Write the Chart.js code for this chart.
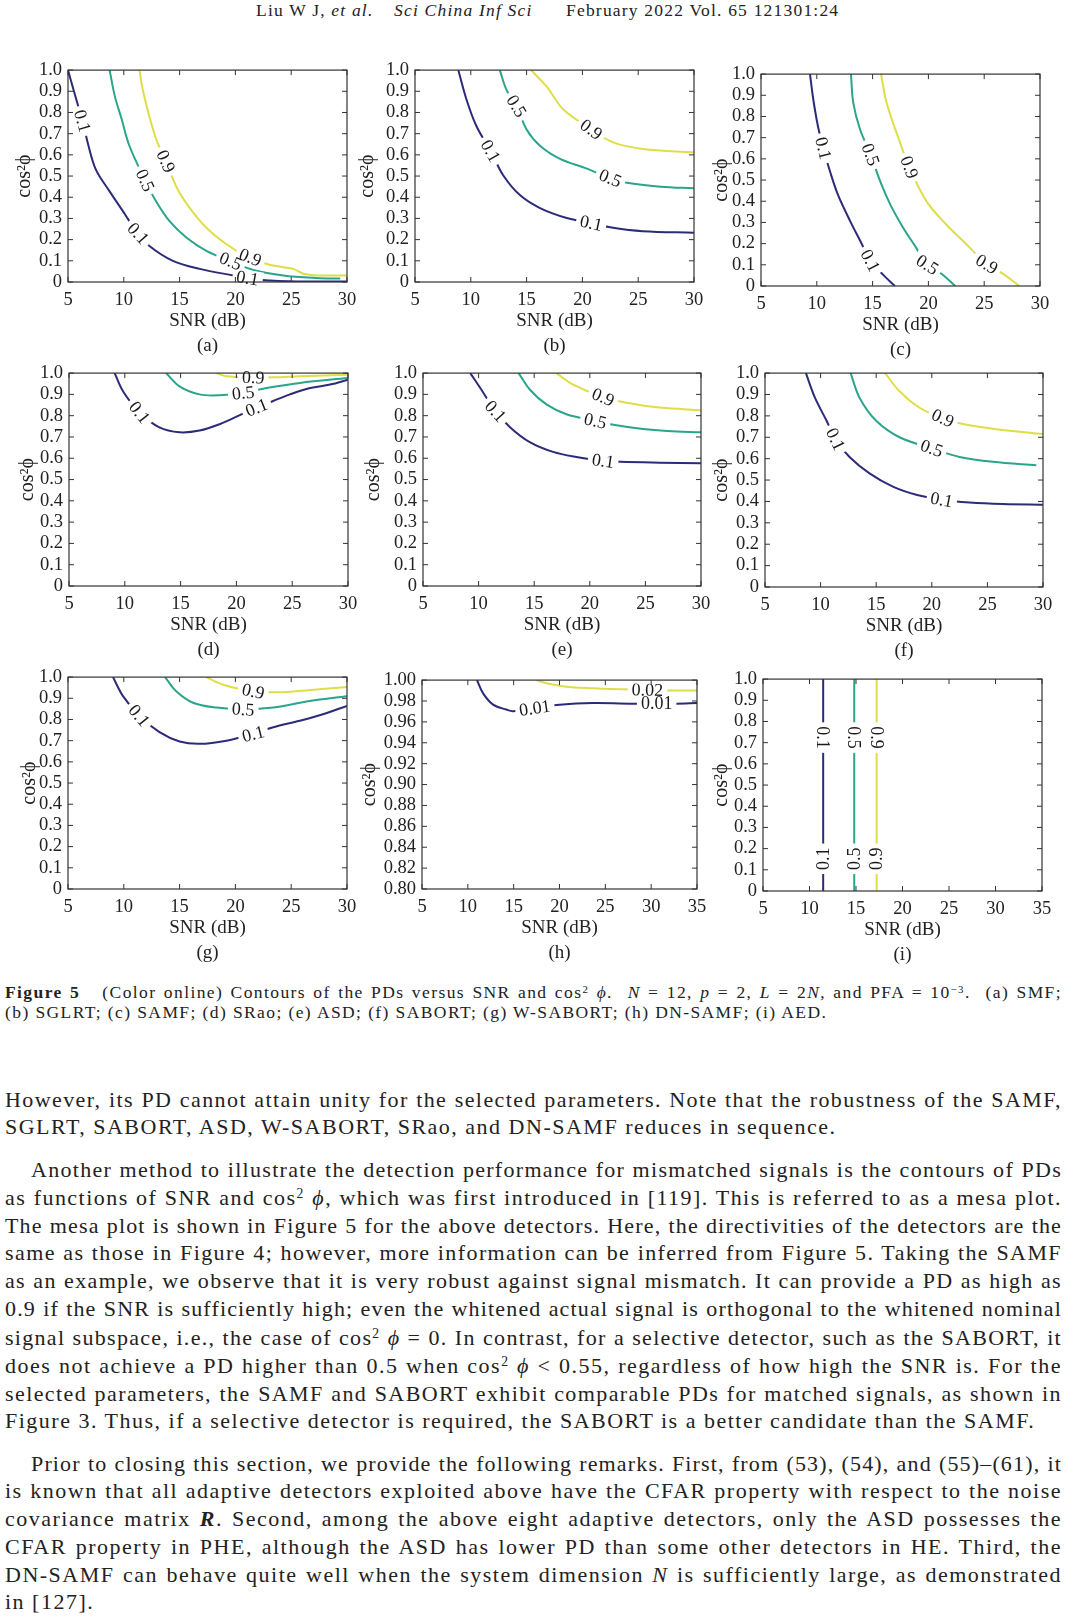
<!DOCTYPE html>
<html>
<head>
<meta charset="utf-8">
<script src="https://cdn.jsdelivr.net/npm/chart.js@4.4.1/dist/chart.umd.min.js"></script>
<style>
body { margin:0; background:#fff; width:1080px; height:1619px; position:relative; overflow:hidden;
       font-family:"Liberation Serif","DejaVu Serif",serif; color:#222; }
canvas { position:absolute; }
.hd { position:absolute; top:0; font-size:17.5px; line-height:20px; white-space:nowrap; letter-spacing:1.2px; }
.cap { position:absolute; left:5px; width:1057px; font-size:17.5px; line-height:21px; height:21px; overflow:hidden;
       text-align:justify; text-align-last:justify; }
.ln { position:absolute; left:5px; width:1057px; font-size:22px; line-height:28px; height:28px; overflow:hidden;
      text-align:justify; text-align-last:justify; }
.end { text-align-last:left; }
.ind { text-indent:26px; }
sup { font-size:0.62em; vertical-align:0; position:relative; top:-0.5em; }
</style>
</head>
<body>

<div class="hd" style="left:256px">Liu W J, <i>et al.</i></div>
<div class="hd" style="left:394px"><i>Sci China Inf Sci</i></div>
<div class="hd" style="left:566px">February 2022 Vol. 65 121301:24</div>

<div class="cap" style="top:982px"><b>Figure 5</b>&nbsp;&nbsp; (Color online) Contours of the PDs versus SNR and cos<sup>2</sup> <i>ϕ</i>. &nbsp;<i>N</i> = 12, <i>p</i> = 2, <i>L</i> = 2<i>N</i>, and PFA = 10<sup>−3</sup>. &nbsp;(a) SMF;</div>
<div class="cap end" style="top:1002px">(b) SGLRT; (c) SAMF; (d) SRao; (e) ASD; (f) SABORT; (g) W-SABORT; (h) DN-SAMF; (i) AED.</div>

<div class="ln" style="top:1086px">However, its PD cannot attain unity for the selected parameters. Note that the robustness of the SAMF,</div>
<div class="ln end" style="top:1113px">SGLRT, SABORT, ASD, W-SABORT, SRao, and DN-SAMF reduces in sequence.</div>

<div class="ln ind" style="top:1156px">Another method to illustrate the detection performance for mismatched signals is the contours of PDs</div>
<div class="ln" style="top:1184px">as functions of SNR and cos<sup>2</sup> <i>ϕ</i>, which was first introduced in [119]. This is referred to as a mesa plot.</div>
<div class="ln" style="top:1212px">The mesa plot is shown in Figure 5 for the above detectors. Here, the directivities of the detectors are the</div>
<div class="ln" style="top:1239px">same as those in Figure 4; however, more information can be inferred from Figure 5. Taking the SAMF</div>
<div class="ln" style="top:1267px">as an example, we observe that it is very robust against signal mismatch. It can provide a PD as high as</div>
<div class="ln" style="top:1295px">0.9 if the SNR is sufficiently high; even the whitened actual signal is orthogonal to the whitened nominal</div>
<div class="ln" style="top:1324px">signal subspace, i.e., the case of cos<sup>2</sup> <i>ϕ</i> = 0. In contrast, for a selective detector, such as the SABORT, it</div>
<div class="ln" style="top:1352px">does not achieve a PD higher than 0.5 when cos<sup>2</sup> <i>ϕ</i> &lt; 0.55, regardless of how high the SNR is. For the</div>
<div class="ln" style="top:1380px">selected parameters, the SAMF and SABORT exhibit comparable PDs for matched signals, as shown in</div>
<div class="ln end" style="top:1407px">Figure 3. Thus, if a selective detector is required, the SABORT is a better candidate than the SAMF.</div>

<div class="ln ind" style="top:1450px">Prior to closing this section, we provide the following remarks. First, from (53), (54), and (55)–(61), it</div>
<div class="ln" style="top:1477px">is known that all adaptive detectors exploited above have the CFAR property with respect to the noise</div>
<div class="ln" style="top:1505px">covariance matrix <b><i>R</i></b>. Second, among the above eight adaptive detectors, only the ASD possesses the</div>
<div class="ln" style="top:1533px">CFAR property in PHE, although the ASD has lower PD than some other detectors in HE. Third, the</div>
<div class="ln" style="top:1561px">DN-SAMF can behave quite well when the system dimension <i>N</i> is sufficiently large, as demonstrated</div>
<div class="ln end" style="top:1588px">in [127].</div>

<script>
// 等高線の色 (0.1 / 0.5 / 0.9)
const levelColors = ['#2c2b78', '#2aa58c', '#dede48'];

// (a) SMF
const smfSnr01 = [5.0, 5.75, 6.35, 6.8, 7.5, 8.7, 10.1, 11.1, 12.3, 14.4, 16.8, 19.8, 21.8, 24.8, 30];
const smfCos01 = [1.0, 0.86, 0.75, 0.65, 0.53, 0.43, 0.32, 0.24, 0.17, 0.10, 0.062, 0.031, 0.012, 0.004, 0.002];
const smfSnr05 = [8.73, 9.2, 9.8, 10.5, 12.0, 12.9, 14.1, 15.6, 17.4, 19.8, 21.6, 24.3, 27.25, 29.4];
const smfCos05 = [1.0, 0.876, 0.77, 0.643, 0.47, 0.38, 0.287, 0.21, 0.147, 0.093, 0.057, 0.031, 0.019, 0.016];
const smfSnr09 = [11.4, 11.7, 12.2, 12.9, 13.8, 14.8, 15.9, 17.4, 19.2, 20.7, 22.8, 24.3, 25.2, 26.1, 27.5, 30];
const smfCos09 = [1.0, 0.907, 0.8, 0.674, 0.566, 0.44, 0.35, 0.256, 0.178, 0.13, 0.085, 0.07, 0.062, 0.039, 0.031, 0.031];

// (b) SGLRT
const sglrtSnr01 = [8.88, 9.62, 10.5, 11.86, 12.9, 14.4, 16.2, 18.6, 20.7, 22.75, 25.4, 30];
const sglrtCos01 = [1.0, 0.86, 0.736, 0.61, 0.504, 0.41, 0.349, 0.302, 0.279, 0.256, 0.24, 0.233];
const sglrtSnr05 = [12.6, 13.2, 14.1, 15.0, 16.2, 18.0, 20.4, 22.5, 24.0, 27.0, 30];
const sglrtCos05 = [1.0, 0.907, 0.83, 0.72, 0.643, 0.581, 0.535, 0.49, 0.468, 0.45, 0.442];
const sglrtSnr09 = [15.4, 16.8, 18.3, 20.8, 22.75, 25.4, 30];
const sglrtCos09 = [1.0, 0.922, 0.814, 0.72, 0.659, 0.628, 0.612];

// (c) SAMF
const samfSnr01 = [9.39, 9.69, 10.1, 10.6, 11.2, 11.9, 13.0, 13.9, 14.8, 16.0, 17.0];
const samfCos01 = [1.0, 0.879, 0.755, 0.647, 0.538, 0.43, 0.305, 0.212, 0.12, 0.05, 0];
const samfSnr05 = [13.06, 13.27, 13.87, 14.8, 15.7, 16.6, 17.75, 18.9, 19.8, 21.2, 22.4];
const samfCos05 = [1.0, 0.864, 0.74, 0.623, 0.491, 0.383, 0.274, 0.181, 0.104, 0.057, 0];
const samfSnr09 = [15.75, 16.26, 17.45, 18.35, 19.85, 21.6, 23.4, 25.2, 26.7, 28.15];
const samfCos09 = [1.0, 0.864, 0.678, 0.553, 0.398, 0.29, 0.197, 0.104, 0.057, 0];

// (d) SRao
const sraoSnr01 = [9.09, 9.84, 11.33, 13.1, 14.9, 16.7, 18.5, 20.2, 21.8, 23.3, 24.8, 26.6, 28.4, 30];
const sraoCos01 = [1.0, 0.915, 0.815, 0.745, 0.722, 0.73, 0.76, 0.80, 0.838, 0.869, 0.90, 0.93, 0.946, 0.969];
const sraoSnr05 = [13.7, 14.9, 16.7, 18.5, 20.6, 22.7, 25.7, 30];
const sraoCos05 = [1.0, 0.938, 0.9, 0.896, 0.907, 0.93, 0.954, 0.977];
const sraoSnr09 = [18.2, 19.1, 21.5, 23.3, 25.7, 30];
const sraoCos09 = [1.0, 0.985, 0.98, 0.98, 0.985, 0.992];

// (e) ASD
const asdSnr01 = [9.25, 10.15, 11.5, 12.85, 14.6, 16.7, 18.8, 21.2, 23.3, 26.3, 30];
const asdCos01 = [1.0, 0.93, 0.823, 0.745, 0.676, 0.63, 0.606, 0.588, 0.583, 0.579, 0.576];
const asdSnr05 = [13.6, 14.6, 16.1, 17.9, 20.5, 22.4, 24.8, 27.0, 30];
const asdCos05 = [1.0, 0.923, 0.853, 0.807, 0.776, 0.755, 0.737, 0.728, 0.722];
const asdSnr09 = [17.0, 18.5, 21.2, 23.3, 26.3, 30];
const asdCos09 = [1.0, 0.946, 0.887, 0.861, 0.838, 0.826];

// (f) SABORT
const sabortSnr01 = [8.68, 9.49, 10.54, 11.4, 12.6, 14.4, 16.5, 18.6, 20.9, 23.4, 26.4, 30];
const sabortCos01 = [1.0, 0.885, 0.777, 0.685, 0.608, 0.531, 0.469, 0.431, 0.408, 0.395, 0.388, 0.385];
const sabortSnr05 = [12.7, 13.5, 15.0, 17.1, 20.1, 22.5, 25.5, 29.4];
const sabortCos05 = [1.0, 0.885, 0.777, 0.7, 0.646, 0.608, 0.585, 0.569];
const sabortSnr09 = [15.8, 17.1, 18.9, 21.0, 22.8, 25.8, 30];
const sabortCos09 = [1.0, 0.915, 0.838, 0.789, 0.762, 0.738, 0.715];

// (g) W-SABORT
const wsabortSnr01 = [9.03, 9.93, 11.4, 13.2, 15.0, 16.8, 19.2, 21.6, 23.4, 25.75, 27.85, 30];
const wsabortCos01 = [1.0, 0.91, 0.817, 0.74, 0.696, 0.685, 0.7, 0.732, 0.763, 0.794, 0.825, 0.864];
const wsabortSnr05 = [13.7, 14.7, 16.2, 18.3, 20.7, 23.4, 26.65, 30];
const wsabortCos05 = [1.0, 0.933, 0.879, 0.856, 0.848, 0.856, 0.887, 0.91];
const wsabortSnr09 = [17.4, 18.9, 21.6, 24.3, 27.25, 30];
const wsabortCos09 = [1.0, 0.964, 0.933, 0.929, 0.941, 0.953];

// (h) DN-SAMF (レベル 0.01 / 0.02)
const dnSnr001 = [11.0, 11.65, 12.75, 14.2, 14.9, 17.5, 20.0, 23.65, 28.4, 30.6, 32.7, 35];
const dnCos001 = [1.0, 0.9875, 0.9765, 0.9718, 0.9702, 0.9735, 0.9765, 0.978, 0.9774, 0.9774, 0.9774, 0.978];
const dnSnr002 = [17.5, 18.6, 20.7, 23.65, 26.9, 29.65, 32.7, 35];
const dnCos002 = [1.0, 0.9969, 0.9937, 0.9922, 0.9912, 0.9906, 0.99, 0.99];

// (i) AED (縦線)
const aedSnr01 = [11.47, 11.47];
const aedSnr05 = [14.81, 14.81];
const aedSnr09 = [17.22, 17.22];
const aedCos = [0, 1];

// 目盛り
const snrTicks30 = [5, 10, 15, 20, 25, 30];
const snrTicks35 = [5, 10, 15, 20, 25, 30, 35];
const cosTicks = [0, 0.1, 0.2, 0.3, 0.4, 0.5, 0.6, 0.7, 0.8, 0.9, 1.0];
const cosTicksH = [0.80, 0.82, 0.84, 0.86, 0.88, 0.90, 0.92, 0.94, 0.96, 0.98, 1.00];

Chart.defaults.font.family = '"Liberation Serif", "Times New Roman", serif';
Chart.defaults.color = '#222';

function contour(level, color, snr, cos, labels) {
    return { level, color, snr, cos, labels };
}

// パネルごとの配置と等高線
const panels = [
    { tag: '(a)', l: 68, r: 347, t: 67, b: 282, titleX: 25, xTicks: snrTicks30, yTicks: cosTicks, dec: 1, lines: [
        contour('0.1', levelColors[0], smfSnr01, smfCos01, [[6.3, 0.76], [11.3, 0.23], [21.1, 0.02]]),
        contour('0.5', levelColors[1], smfSnr05, smfCos05, [[11.9, 0.48], [19.5, 0.09]]),
        contour('0.9', levelColors[2], smfSnr09, smfCos09, [[13.8, 0.57], [21.4, 0.125]]) ] },
    { tag: '(b)', l: 415, r: 694, t: 67, b: 282, titleX: 368, xTicks: snrTicks30, yTicks: cosTicks, dec: 1, lines: [
        contour('0.1', levelColors[0], sglrtSnr01, sglrtCos01, [[11.8, 0.62], [20.8, 0.28]]),
        contour('0.5', levelColors[1], sglrtSnr05, sglrtCos05, [[14.1, 0.83], [22.5, 0.49]]),
        contour('0.9', levelColors[2], sglrtSnr09, sglrtCos09, [[20.8, 0.72]]) ] },
    { tag: '(c)', l: 761, r: 1040, t: 71, b: 286, titleX: 722, xTicks: snrTicks30, yTicks: cosTicks, dec: 1, lines: [
        contour('0.1', levelColors[0], samfSnr01, samfCos01, [[10.6, 0.65], [14.8, 0.12]]),
        contour('0.5', levelColors[1], samfSnr05, samfCos05, [[14.8, 0.62], [19.9, 0.1]]),
        contour('0.9', levelColors[2], samfSnr09, samfCos09, [[18.3, 0.56], [25.2, 0.1]]) ] },
    { tag: '(d)', l: 69, r: 348, t: 370, b: 586, titleX: 28, xTicks: snrTicks30, yTicks: cosTicks, dec: 1, lines: [
        contour('0.1', levelColors[0], sraoSnr01, sraoCos01, [[11.3, 0.815], [21.8, 0.84]]),
        contour('0.5', levelColors[1], sraoSnr05, sraoCos05, [[20.6, 0.907]]),
        contour('0.9', levelColors[2], sraoSnr09, sraoCos09, [[21.5, 0.98]]) ] },
    { tag: '(e)', l: 423, r: 701, t: 370, b: 586, titleX: 374, xTicks: snrTicks30, yTicks: cosTicks, dec: 1, lines: [
        contour('0.1', levelColors[0], asdSnr01, asdCos01, [[11.5, 0.82], [21.2, 0.59]]),
        contour('0.5', levelColors[1], asdSnr05, asdCos05, [[20.5, 0.776]]),
        contour('0.9', levelColors[2], asdSnr09, asdCos09, [[21.2, 0.887]]) ] },
    { tag: '(f)', l: 765, r: 1043, t: 370, b: 587, titleX: 722, xTicks: snrTicks30, yTicks: cosTicks, dec: 1, lines: [
        contour('0.1', levelColors[0], sabortSnr01, sabortCos01, [[11.3, 0.69], [20.9, 0.41]]),
        contour('0.5', levelColors[1], sabortSnr05, sabortCos05, [[20.0, 0.65]]),
        contour('0.9', levelColors[2], sabortSnr09, sabortCos09, [[21.0, 0.79]]) ] },
    { tag: '(g)', l: 68, r: 347, t: 674, b: 889, titleX: 30, xTicks: snrTicks30, yTicks: cosTicks, dec: 1, lines: [
        contour('0.1', levelColors[0], wsabortSnr01, wsabortCos01, [[11.4, 0.82], [21.6, 0.73]]),
        contour('0.5', levelColors[1], wsabortSnr05, wsabortCos05, [[20.7, 0.848]]),
        contour('0.9', levelColors[2], wsabortSnr09, wsabortCos09, [[21.6, 0.935]]) ] },
    { tag: '(h)', l: 422, r: 697, t: 677, b: 889, titleX: 370, xTicks: snrTicks35, yTicks: cosTicksH, dec: 2, lines: [
        contour('0.01', levelColors[0], dnSnr001, dnCos001, [[17.3, 0.974], [30.6, 0.9775]]),
        contour('0.02', levelColors[2], dnSnr002, dnCos002, [[29.6, 0.9906]]) ] },
    { tag: '(i)', l: 763, r: 1042, t: 676, b: 891, titleX: 722, xTicks: snrTicks35, yTicks: cosTicks, dec: 1, lines: [
        contour('0.1', levelColors[0], aedSnr01, aedCos, [[11.47, 0.724], [11.47, 0.152]]),
        contour('0.5', levelColors[1], aedSnr05, aedCos, [[14.81, 0.724], [14.81, 0.152]]),
        contour('0.9', levelColors[2], aedSnr09, aedCos, [[17.22, 0.724], [17.22, 0.152]]) ] },
];

// 枠・内向き目盛り・等高線ラベル
function contourPlugin(p) {
    return {
        id: 'contourLabels',
        afterDraw(chart) {
            const { ctx, chartArea: a, scales: { x, y } } = chart;
            const marks = [];
            p.lines.forEach(l => {
                const pts = l.snr.map((v, i) => [x.getPixelForValue(v), y.getPixelForValue(l.cos[i])]);
                l.labels.forEach(([lx, ly]) => {
                    const px = x.getPixelForValue(lx), py = y.getPixelForValue(ly);
                    let best = null;
                    for (let i = 0; i < pts.length - 1; i++) {
                        const [x0, y0] = pts[i], [x1, y1] = pts[i + 1];
                        const dx = x1 - x0, dy = y1 - y0, len2 = dx * dx + dy * dy || 1;
                        let t = ((px - x0) * dx + (py - y0) * dy) / len2;
                        t = Math.max(0, Math.min(1, t));
                        const qx = x0 + t * dx, qy = y0 + t * dy;
                        const d = (qx - px) ** 2 + (qy - py) ** 2;
                        if (!best || d < best.d) best = { d, qx, qy, dx, dy };
                    }
                    let ang = Math.atan2(best.dy, best.dx);
                    if (Math.abs(best.dx) < 0.5) {
                        ang = py < (a.top + a.bottom) / 2 ? Math.PI / 2 : -Math.PI / 2;
                    } else {
                        if (ang > Math.PI / 2) ang -= Math.PI;
                        if (ang < -Math.PI / 2) ang += Math.PI;
                    }
                    marks.push({ x: best.qx, y: best.qy, ang, text: l.level });
                });
            });

            ctx.save();
            ctx.font = '18px "Liberation Serif", serif';
            // 線の切れ目
            ctx.save();
            ctx.beginPath();
            ctx.rect(a.left, a.top, a.width, a.height);
            ctx.clip();
            marks.forEach(m => {
                const w = ctx.measureText(m.text).width;
                ctx.save();
                ctx.translate(m.x, m.y);
                ctx.rotate(m.ang);
                ctx.fillStyle = '#fff';
                ctx.fillRect(-w / 2 - 4, -8, w + 8, 16);
                ctx.restore();
            });
            ctx.restore();

            // 枠
            ctx.strokeStyle = '#333';
            ctx.lineWidth = 1.2;
            ctx.strokeRect(a.left, a.top, a.width, a.height);
            ctx.lineWidth = 1;
            ctx.beginPath();
            x.ticks.forEach(t => {
                const px = x.getPixelForValue(t.value);
                ctx.moveTo(px, a.bottom); ctx.lineTo(px, a.bottom - 5);
                ctx.moveTo(px, a.top); ctx.lineTo(px, a.top + 5);
            });
            y.ticks.forEach(t => {
                const py = y.getPixelForValue(t.value);
                ctx.moveTo(a.left, py); ctx.lineTo(a.left + 5, py);
                ctx.moveTo(a.right, py); ctx.lineTo(a.right - 5, py);
            });
            ctx.stroke();

            // ラベル文字
            ctx.fillStyle = '#1a1a1a';
            ctx.textAlign = 'center';
            ctx.textBaseline = 'middle';
            marks.forEach(m => {
                ctx.save();
                ctx.translate(m.x, m.y);
                ctx.rotate(m.ang);
                ctx.fillText(m.text, 0, 1);
                ctx.restore();
            });
            ctx.restore();
        }
    };
}

function makePanel(p) {
    const cv = document.createElement('canvas');
    const left = p.titleX - 12;
    const top = p.t - 14;
    const w = p.r - left + 18;
    const h = p.b - top + 77;
    cv.width = w; cv.height = h;
    cv.style.left = left + 'px';
    cv.style.top = top + 'px';
    cv.style.width = w + 'px';
    cv.style.height = h + 'px';
    document.body.appendChild(cv);

    const xs = p.xTicks, ys = p.yTicks;
    new Chart(cv, {
        type: 'scatter',
        data: {
            datasets: p.lines.map(l => ({
                data: l.snr.map((v, i) => ({ x: v, y: l.cos[i] })),
                showLine: true,
                borderColor: l.color,
                borderWidth: 2,
                pointRadius: 0,
                tension: 0.35,
                fill: false,
            })),
        },
        options: {
            responsive: false,
            animation: false,
            devicePixelRatio: 1,
            events: [],
            layout: { padding: { top: 14, left: 0, right: 18, bottom: 0 } },
            plugins: { legend: { display: false }, tooltip: { enabled: false } },
            scales: {
                x: {
                    type: 'linear',
                    min: xs[0], max: xs[xs.length - 1],
                    grid: { display: false, drawTicks: false },
                    border: { display: false },
                    ticks: { stepSize: xs[1] - xs[0], padding: 7, autoSkip: false, maxRotation: 0,
                             color: '#222', font: { size: 18.5 } },
                    title: { display: true, text: ['SNR (dB)', p.tag], color: '#222',
                             font: { size: 19, lineHeight: 1.316 }, padding: 0 },
                    afterFit: s => { s.height = 77; },
                },
                y: {
                    type: 'linear',
                    min: ys[0], max: ys[ys.length - 1],
                    grid: { display: false, drawTicks: false },
                    border: { display: false },
                    ticks: { stepSize: ys[1] - ys[0], padding: 6, autoSkip: false, color: '#222',
                             font: { size: 18.5 },
                             callback: v => (Math.abs(v) < 1e-9 ? '0' : v.toFixed(p.dec)) },
                    title: { display: true, text: 'cos²ϕ', color: '#222',
                             font: { size: 20, lineHeight: 1.2 }, padding: 0 },
                    afterFit: s => { s.width = p.l - left; },
                },
            },
        },
        plugins: [contourPlugin(p)],
    });
}

// 本文の字間を行ごとに調整 (原本のフォントは幅が広い)
function fitText() {
    document.querySelectorAll('.ln, .cap').forEach(el => {
        const cs = getComputedStyle(el);
        const probe = document.createElement('span');
        probe.innerHTML = el.innerHTML;
        probe.style.cssText = 'position:absolute;left:0;top:0;visibility:hidden;white-space:nowrap;letter-spacing:0';
        probe.style.fontSize = cs.fontSize;
        probe.style.fontFamily = cs.fontFamily;
        document.body.appendChild(probe);
        const w0 = probe.getBoundingClientRect().width;
        probe.remove();
        const n = el.textContent.length;
        const indent = el.classList.contains('ind') ? 26 : 0;
        const maxLs = el.classList.contains('cap') ? 1.4 : 1.5;
        let ls = el.classList.contains('end') ? maxLs : Math.min(maxLs, (1048 - indent - w0) / n);
        el.style.letterSpacing = ls.toFixed(2) + 'px';
    });
}

window.addEventListener('load', () => {
    fitText();
    panels.forEach(makePanel);
});
</script>
</body>
</html>
